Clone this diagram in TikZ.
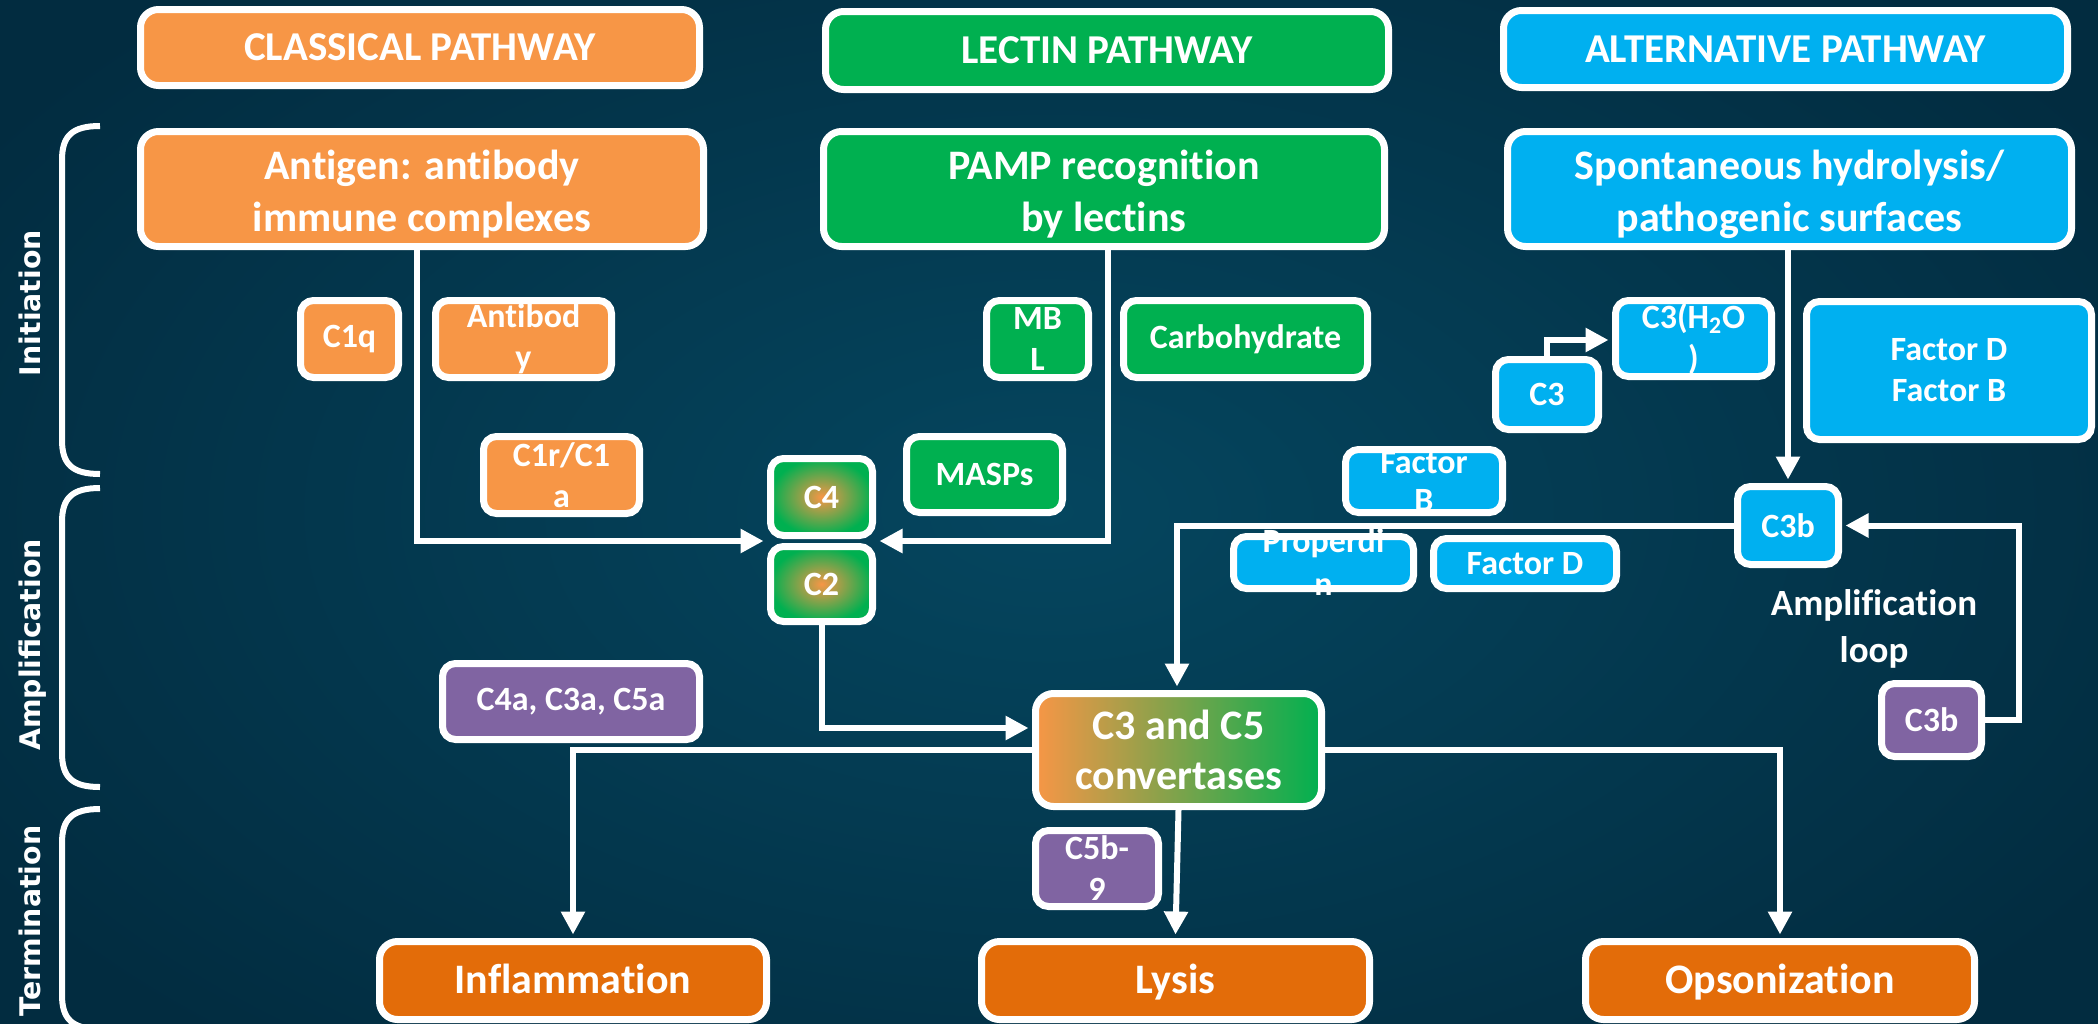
\documentclass[tikz,border=0pt]{standalone}
\usepackage{fontspec}
\setmainfont{Carlito}[Ligatures=NoCommon]
\newfontfamily\sidefont{DejaVu Sans}
\usetikzlibrary{arrows.meta,calc}
\definecolor{bgin}{HTML}{05465F}
\definecolor{bgout}{HTML}{022C40}
\definecolor{cor}{HTML}{F79646}
\definecolor{cgr}{HTML}{00B050}
\definecolor{cbl}{HTML}{00B0F0}
\definecolor{cpu}{HTML}{8064A2}
\definecolor{cdo}{HTML}{E36C09}
\newcommand\topstrut{\rule{0pt}{20pt}}
\tikzset{
  box/.style={draw=white, line width=3.5pt, rounded corners=6.5pt, inner sep=0pt,
    text=white, align=center, font=\bfseries\fontsize{17}{20.5}\selectfont},
  bigbox/.style={box, rounded corners=9pt, font=\bfseries\fontsize{21}{25}\selectfont},
  twobox/.style={bigbox, font=\bfseries\fontsize{21}{26}\selectfont},
  titlebox/.style={bigbox, font=\bfseries\fontsize{20.5}{24}\selectfont},
  endbox/.style={bigbox, fill=cdo, text height=17pt, text depth=4.5pt},
  obox/.style={box, fill=cor},
  gbox/.style={box, fill=cgr},
  bbox/.style={box, fill=cbl},
  pbox/.style={box, fill=cpu},
  rbox/.style={box, inner color=cor, outer color=cgr},
  txt/.style={text=white, inner sep=0pt, align=center, font=\bfseries\fontsize{17}{20.5}\selectfont},
  side/.style={text=white, inner sep=0pt, rotate=90, text depth=0pt, font=\sidefont\bfseries\fontsize{14.2}{17}\selectfont},
  conn/.style={draw=white, line width=3pt},
  arr/.style={conn, -{Triangle[length=11.5pt,width=11.5pt]}},
  brace/.style={draw=white, line width=3pt},
}
\begin{document}
\begin{tikzpicture}[x=0.5pt,y=-0.5pt]
\useasboundingbox (0,0) rectangle (2098,1023);
\clip (0,0) rectangle (2098,1023);
\shade[inner color=bgin, outer color=bgout] (-200,-200) rectangle (2298,1223);

% phase braces
\draw[brace] (100,126) .. controls (72,126) and (62,136) .. (62,160) -- (62,440) .. controls (62,464) and (72,474) .. (100,474);
\draw[brace] (100,488) .. controls (72,488) and (62,498) .. (62,522) -- (62,753) .. controls (62,777) and (72,787) .. (100,787);
\draw[brace] (100,809) .. controls (72,809) and (62,819) .. (62,843) -- (62,995) .. controls (62,1019) and (72,1029) .. (100,1029);
\node[side] (lini) at (30,303) {Initiation};
\node[side] (lamp) at (30,645) {Amplification};
\node[side] (lter) at (30,921) {Termination};

% headers
\node[titlebox, fill=cor, minimum width=279.5pt, minimum height=38pt] (clas) at (420,47.5) {CLASSICAL PATHWAY};
\node[titlebox, fill=cgr, minimum width=281.5pt, minimum height=39pt] (lect) at (1107,50.5) {LECTIN PATHWAY};
\node[titlebox, fill=cbl, minimum width=282pt, minimum height=38.5pt] (alt) at (1785.5,49) {ALTERNATIVE PATHWAY};

% initiators
\node[twobox, fill=cor, minimum width=281.5pt, minimum height=57.5pt] (anti) at (422,189) {\topstrut Antigen: antibody\\immune complexes};
\node[twobox, fill=cgr, minimum width=280.5pt, minimum height=57.5pt] (pamp) at (1104,189) {\topstrut PAMP recognition\\by lectins};
\node[twobox, fill=cbl, minimum width=282pt, minimum height=57.5pt] (spon) at (1789.5,189) {\topstrut Spontaneous hydrolysis/\\pathogenic surfaces};

% small components
\node[obox, minimum width=49pt, minimum height=38.5pt] (c1q) at (349.5,339) {C1q};
\node[obox, minimum width=88pt, minimum height=38.5pt] (antib) at (523.5,339) {Antibod\\y};
\node[obox, minimum width=78pt, minimum height=38.5pt] (c1r) at (561.5,475) {C1r/C1\\a};
\node[gbox, minimum width=51pt, minimum height=38.5pt] (mbl) at (1037.5,339) {MB\\L};
\node[gbox, minimum width=122pt, minimum height=38.5pt] (carb) at (1245.5,339) {Carbohydrate};
\node[gbox, minimum width=78pt, minimum height=38pt] (masps) at (984.5,474.5) {MASPs};
\node[rbox, minimum width=51pt, minimum height=38.5pt] (c4) at (821.5,497) {C4};
\node[rbox, minimum width=51pt, minimum height=37.5pt] (c2) at (821.5,584) {C2};
\node[bbox, minimum width=78pt, minimum height=38pt] (c3h2o) at (1693.5,338.5) {C3(H\textsubscript{2}O\\)};
\node[bbox, minimum width=51.5pt, minimum height=35pt] (c3) at (1547,394.5) {C3};
\node[bbox, minimum width=142.5pt, minimum height=69pt] (fdb) at (1949,370.5) {Factor D\\Factor B};
\node[bbox, minimum width=78.5pt, minimum height=31.5pt] (fb) at (1424,481) {};
\node[bbox, minimum width=50.5pt, minimum height=39pt] (c3b) at (1788,525.5) {C3b};
\node[bbox, minimum width=90pt, minimum height=26pt] (prop) at (1323.5,562.5) {};
\node[bbox, minimum width=91.5pt, minimum height=25pt] (fd) at (1525,563.5) {Factor D};
\node[pbox, minimum width=50pt, minimum height=36.5pt] (c3bp) at (1931.5,720) {C3b};
\node[pbox, minimum width=128.5pt, minimum height=38pt] (c4a) at (571,701.5) {C4a, C3a, C5a};
\node[pbox, minimum width=61.5pt, minimum height=38pt] (c5b) at (1097,868.5) {C5b-\\9};
\node[txt, font=\bfseries\fontsize{18.5}{23.5}\selectfont] (amp) at (1874,629) {Amplification\\loop};

% convertases and outcomes
\node[bigbox, left color=cor, right color=cgr, minimum width=143pt, minimum height=56.5pt] (conv) at (1178.5,750) {C3 and C5\\convertases};
\node[endbox, minimum width=193.5pt, minimum height=39pt] (infl) at (573,980.5) {Inflammation};
\node[endbox, minimum width=194pt, minimum height=39pt] (lysis) at (1175.5,980.5) {Lysis};
\node[endbox, minimum width=194.5pt, minimum height=39pt] (opso) at (1780,980.5) {Opsonization};

% connectors
\coordinate (c4w) at ($(c4.south west)!.5!(c2.north west)+(-1.75pt,0)$);
\coordinate (c4e) at ($(c4.south east)!.5!(c2.north east)+(1.75pt,0)$);
\draw[arr] ([xshift=-2.5pt]anti.south) |- (c4w);
\draw[arr] ([xshift=2pt]pamp.south) |- (c4e);
\draw[arr] (c2.south) |- ([xshift=-1.75pt,yshift=11pt]conv.west);
\draw[arr] (c3b.west) -| ([xshift=-0.75pt,yshift=1.75pt]conv.north);
\draw[arr] (spon.south -| c3b.north) -- ([yshift=1.75pt]c3b.north);
\draw[arr] (c3bp.east) -- ++(16.75pt,0) |- ([xshift=1.75pt]c3b.east);
\draw[arr] (c3.north) |- ([xshift=-1.75pt,yshift=-0.75pt]c3h2o.west);
\draw[arr] (conv.west) -| ([yshift=1.75pt]infl.north);
\draw[arr] (conv.south) -- ([yshift=1.75pt]lysis.north);
\draw[arr] (conv.east) -| ([yshift=1.75pt]opso.north);

% overflowing labels
\node[txt, font=\bfseries\fontsize{17}{19}\selectfont] (fb-t) at (fb) {Factor\\B};
\node[txt, font=\bfseries\fontsize{17}{21.5}\selectfont] (prop-t) at (prop) {Properdi\\n};
\end{tikzpicture}
\end{document}
